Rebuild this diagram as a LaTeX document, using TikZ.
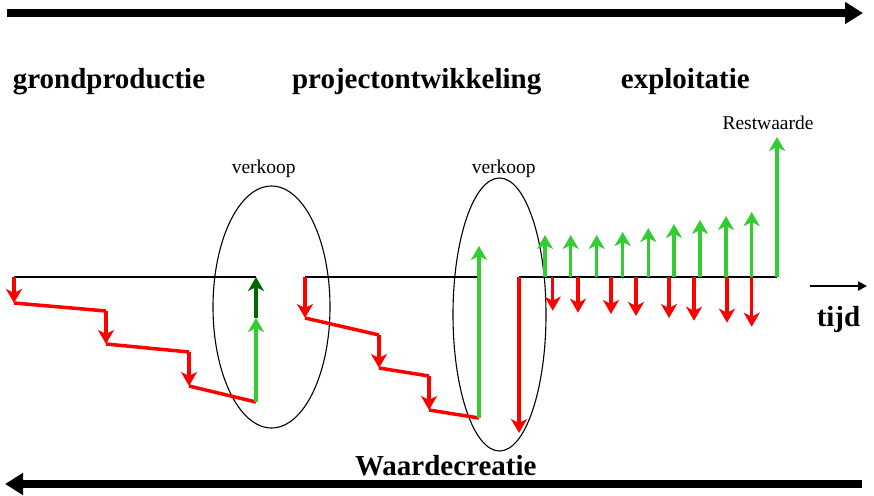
\documentclass[tikz,border=0pt]{standalone}
\usepackage{fontspec}
\setmainfont{Liberation Serif}
\usetikzlibrary{arrows.meta,shapes.geometric}
\definecolor{inflowgreen}{HTML}{33CC33}
\definecolor{darkgreen}{HTML}{006600}

\begin{document}
\begin{tikzpicture}[x=1pt,y=-1pt,
  cash/.style={line width=3.5pt, -{Stealth[length=14pt,width=16pt,inset=4pt]}},
  outflow/.style={cash, draw=red},
  inflow/.style={cash, draw=inflowgreen},
  gain/.style={cash, draw=darkgreen},
  slope/.style={line width=3.5pt, draw=red},
  timeline/.style={line width=2.5pt, draw=black},
  phase/.style={ellipse, draw=black, line width=1.1pt, inner sep=0pt},
  heading/.style={font=\bfseries\fontsize{29}{32}\selectfont, anchor=base, inner sep=0pt},
  label/.style={font=\fontsize{19.5}{22}\selectfont, anchor=base, inner sep=0pt},
  bigarrow/.style={line width=8pt, -{Triangle[length=18pt,width=21pt]}},
]
\useasboundingbox (0,0) rectangle (874,495);

% headings
\node[heading] (gp) at (109,88) {grondproductie};
\node[heading] (po) at (416.7,88) {projectontwikkeling};
\node[heading] (ex) at (685.3,88) {exploitatie};
\node[heading] (wc) at (445.8,475) {Waardecreatie};
\node[heading] (tijd) at (838.5,326) {tijd};
\node[label] (rest) at (768,129) {Restwaarde};
\node[label] (vk1) at (263.7,173) {verkoop};
\node[label] (vk2) at (503.7,173) {verkoop};

% long arrows at top and bottom
\coordinate (topL) at (7,13);
\coordinate (topR) at (863,13);
\draw[bigarrow] (topL) -- (topR);
\coordinate (botR) at (862,484);
\coordinate (botL) at (5,484);
\draw[bigarrow] (botR) -- (botL);

% time arrow
\coordinate (tS) at (810,286);
\coordinate (tE) at (867,286);
\draw[line width=2pt, -{Triangle[length=9pt,width=9pt]}] (tS) -- (tE);

% sale moments
\node[phase, minimum width=117pt, minimum height=242pt] (sale1) at (271.5,307) {};
\node[phase, minimum width=93pt, minimum height=273pt] (sale2) at (499.5,314.5) {};

% phase 1: land production
\coordinate (a0) at (14,277);
\coordinate (a1) at (14,303);
\coordinate (a2) at (106,311);
\coordinate (a3) at (106,344);
\coordinate (a4) at (189,352);
\coordinate (a5) at (189,386);
\coordinate (a6) at (256,402);
\coordinate (a7) at (256,318);
\coordinate (a8) at (256,277);
\draw[timeline] (a0) -- (a8);
\draw[outflow] (a0) -- (a1);
\draw[slope] (a1) -- (a2);
\draw[outflow] (a2) -- (a3);
\draw[slope] (a3) -- (a4);
\draw[outflow] (a4) -- (a5);
\draw[slope] (a5) -- (a6);
\draw[gain] (a7) -- (a8);
\draw[inflow] (a6) -- (a7);

% phase 2: project development
\coordinate (b0) at (305,277);
\coordinate (b1) at (305,318);
\coordinate (b2) at (379,335);
\coordinate (b3) at (379,368);
\coordinate (b4) at (429,376);
\coordinate (b5) at (429,410);
\coordinate (b6) at (479,418);
\coordinate (b7) at (479,246);
\coordinate (b8) at (479,277);
\draw[timeline] (b0) -- (b8);
\draw[outflow] (b0) -- (b1);
\draw[slope] (b1) -- (b2);
\draw[outflow] (b2) -- (b3);
\draw[slope] (b3) -- (b4);
\draw[outflow] (b4) -- (b5);
\draw[slope] (b5) -- (b6);
\draw[inflow] (b6) -- (b7);

% phase 3: exploitation
\coordinate (c0) at (519,277);
\coordinate (c1) at (519,433);
\coordinate (c9) at (777,277);
\draw[timeline] (c0) -- (c9);
\draw[outflow] (c0) -- (c1);
\foreach \x/\t [count=\i] in {545/235, 570.7/235, 596.7/235, 622.7/232, 648.3/228,
                              674/224, 700/220, 726/216, 751.7/212} {
  \coordinate (in\i) at (\x,277);
  \coordinate (inT\i) at (\x,\t);
  \draw[inflow] (in\i) -- (inT\i);
}
\foreach \x/\t [count=\i] in {552.7/310.7, 578/312.7, 611/314, 636/316, 669/318,
                              694/320.7, 727/322.7, 751.7/326.7} {
  \coordinate (out\i) at (\x,277);
  \coordinate (outT\i) at (\x,\t);
  \draw[outflow] (out\i) -- (outT\i);
}
\coordinate (restT) at (777,137);
\draw[inflow] (c9) -- (restT);
\end{tikzpicture}
\end{document}
